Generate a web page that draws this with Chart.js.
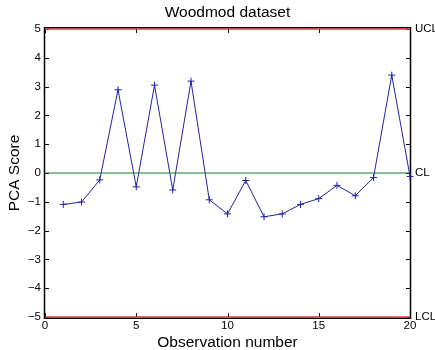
<!DOCTYPE html>
<html>
<head>
<meta charset="utf-8">
<script src="https://cdn.jsdelivr.net/npm/chart.js@4/dist/chart.umd.min.js"></script>
<style>
  html, body { margin: 0; padding: 0; background: #fff; }
  canvas { display: block; }
</style>
</head>
<body>
<canvas id="woodmodChart" width="435" height="350"></canvas>
<script>
// observation numbers and their PCA scores
const observations = [1, 2, 3, 4, 5, 6, 7, 8, 9, 10, 11, 12, 13, 14, 15, 16, 17, 18, 19, 20];
const pcaScores = [-1.09, -1.01, -0.24, 2.89, -0.48, 3.05, -0.59, 3.19, -0.93, -1.42,
                   -0.26, -1.52, -1.42, -1.09, -0.89, -0.43, -0.79, -0.16, 3.40, -0.12];

// control limits
const limitValues = [5, 0, -5];
const limitLabels = ['UCL', 'CL', 'LCL'];
const limitColors = ['#e8383c', '#0f7d2f', '#e8383c'];
const limitWidths = [1.5, 1, 1.5];

// axis ranges
const xRange = [0, 20];
const yRange = [-5, 5];

const fontFamily = '"Liberation Sans", Arial, Helvetica, sans-serif';

function minusSign(v) {
    return String(v).replace('-', '\u2212');
}

// MATLAB style box with ticks pointing inwards, drawn under the lines
const insideTicks = {
    id: 'insideTicks',
    beforeDatasetsDraw(chart) {
        const { ctx, chartArea: a, scales } = chart;
        const len = 4;
        ctx.save();
        ctx.strokeStyle = '#000';
        ctx.lineWidth = 1;
        ctx.beginPath();
        scales.x.ticks.forEach(t => {
            const px = Math.round(scales.x.getPixelForValue(t.value)) + 0.5;
            ctx.moveTo(px, a.bottom); ctx.lineTo(px, a.bottom - len);
            ctx.moveTo(px, a.top); ctx.lineTo(px, a.top + len);
        });
        scales.y.ticks.forEach(t => {
            const py = Math.round(scales.y.getPixelForValue(t.value)) + 0.5;
            ctx.moveTo(a.left, py); ctx.lineTo(a.left + len, py);
            ctx.moveTo(a.right, py); ctx.lineTo(a.right - len, py);
        });
        ctx.stroke();
        // frame sits just outside the limit lines
        ctx.lineWidth = 1.5;
        ctx.strokeRect(a.left - 0.5, a.top - 1.25, a.right - a.left + 1, a.bottom - a.top + 2.5);
        ctx.restore();
    }
};

const datasets = limitValues.map((v, i) => ({
    label: limitLabels[i],
    data: [{ x: xRange[0], y: v }, { x: xRange[1], y: v }],
    borderColor: limitColors[i],
    borderWidth: limitWidths[i],
    pointRadius: 0,
    clip: false
}));

datasets.push({
    label: 'PCA Score',
    data: observations.map((x, i) => ({ x: x, y: pcaScores[i] })),
    borderColor: '#2323a0',
    borderWidth: 1,
    pointStyle: 'cross',
    pointRadius: 3.5,
    pointBorderWidth: 1,
    pointBorderColor: '#2323a0',
    clip: false
});

const ctx = document.getElementById('woodmodChart').getContext('2d');

new Chart(ctx, {
    type: 'line',
    data: { datasets: datasets },
    options: {
        responsive: false,
        animation: false,
        layout: { padding: 0 },
        plugins: {
            legend: { display: false },
            tooltip: { enabled: false }
        },
        scales: {
            x: {
                type: 'linear',
                position: 'bottom',
                min: xRange[0],
                max: xRange[1],
                ticks: {
                    stepSize: 5,
                    padding: 2,
                    color: '#000',
                    font: { family: fontFamily, size: 11.5 }
                },
                grid: { display: false, drawTicks: false },
                border: { display: false },
                title: {
                    display: true,
                    text: 'Observation number',
                    color: '#000',
                    font: { family: fontFamily, size: 15.5, lineHeight: 1 },
                    padding: { top: 0, bottom: 0 }
                },
                afterFit: scale => { scale.height = 33; }
            },
            xTop: {
                type: 'linear',
                position: 'top',
                min: xRange[0],
                max: xRange[1],
                ticks: { display: false },
                grid: { display: false, drawTicks: false },
                border: { display: false },
                title: {
                    display: true,
                    text: 'Woodmod dataset',
                    color: '#000',
                    font: { family: fontFamily, size: 15.5, lineHeight: 1 },
                    padding: { top: 5, bottom: 0 }
                },
                afterFit: scale => { scale.height = 29; }
            },
            y: {
                position: 'left',
                min: yRange[0],
                max: yRange[1],
                ticks: {
                    stepSize: 1,
                    padding: 4,
                    color: '#000',
                    font: { family: fontFamily, size: 11.5 },
                    callback: v => minusSign(v)
                },
                grid: { display: false, drawTicks: false },
                border: { display: false },
                title: {
                    display: true,
                    text: 'PCA Score',
                    color: '#000',
                    font: { family: fontFamily, size: 15.5, lineHeight: 1 },
                    padding: { top: 7, bottom: 0 }
                },
                afterFit: scale => { scale.width = 45; }
            },
            yLimits: {
                position: 'right',
                min: yRange[0],
                max: yRange[1],
                afterBuildTicks: scale => {
                    scale.ticks = limitValues.map(v => ({ value: v }));
                },
                ticks: {
                    padding: 5,
                    color: '#000',
                    font: { family: fontFamily, size: 11.5 },
                    callback: v => limitLabels[limitValues.indexOf(v)]
                },
                grid: { display: false, drawTicks: false },
                border: { display: false },
                afterFit: scale => { scale.width = 25; }
            }
        }
    },
    plugins: [insideTicks]
});
</script>
</body>
</html>
